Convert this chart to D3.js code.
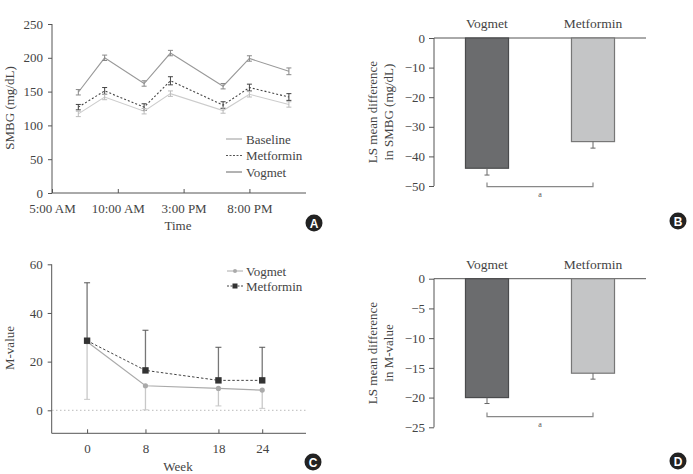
<!DOCTYPE html>
<html>
<head>
<meta charset="utf-8">
<script src="https://cdn.jsdelivr.net/npm/d3@7.9.0/dist/d3.min.js"></script>
<style>
  body { margin: 0; background: #fff; }
  .axis path, .axis line { stroke: #555; }
  .axis text { fill: #444; font-size: 13px; }
</style>
</head>
<body>
<svg id="chart" width="693" height="474"></svg>
<script>
// --- Panel A: SMBG profile (hours of day) ---
const smbgHours = [7, 9, 12, 14, 18, 20, 23];
const smbgTickHours = [5, 10, 15, 20];
const smbgTickLabels = ['5:00 AM', '10:00 AM', '3:00 PM', '8:00 PM'];
const baselineSmbg = [149, 200, 162, 207, 158, 199, 180];
const baselineErr = [4, 4, 4, 4, 4, 4, 5];
const metforminSmbg = [127, 151, 127, 166, 130, 156, 142];
const metforminErr = [4, 5, 5, 6, 5, 5, 5];
const vogmetSmbg = [117, 142, 121, 147, 122, 146, 131];
const vogmetErr = [4, 4, 4, 4, 4, 4, 4];

// --- Panel B / D: LS mean difference ---
const groups = ['Vogmet', 'Metformin'];
const smbgDiff = [-44, -35];
const smbgDiffErr = [2.3, 2.2];
const mDiff = [-20, -15.9];
const mDiffErr = [1, 1];

// --- Panel C: M-value by week ---
const weeks = [0, 8, 18, 24];
const vogmetM = [28.2, 10.1, 9.0, 8.3];
const vogmetMLow = [4.5, 0.2, 1.8, 0.8];
const metforminM = [28.6, 16.4, 12.3, 12.3];
const metforminMHigh = [52.4, 32.9, 25.9, 25.9];

const svg = d3.select('#chart');
const textColor = '#444';
const serif = 'Liberation Serif, Times New Roman, serif';

function badge(x, y, letter) {
  svg.append('circle').attr('cx', x).attr('cy', y).attr('r', 8.5).attr('fill', '#222');
  svg.append('text').attr('class', 'badge').attr('x', x).attr('y', y + 4.5).attr('text-anchor', 'middle')
    .attr('fill', '#fff').attr('font-size', 12).attr('font-weight', 'bold')
    .attr('font-family', 'Liberation Sans, Arial, sans-serif').text(letter);
}

function yLabel(x, y, lines) {
  const t = svg.append('text').attr('transform', `translate(${x},${y}) rotate(-90)`)
    .attr('text-anchor', 'middle').attr('fill', textColor).attr('font-size', 13);
  lines.forEach((l, i) => t.append('tspan').attr('x', 0).attr('dy', i === 0 ? 0 : 16).text(l));
}

// ================= Panel A =================
{
  const x = d3.scaleLinear().domain([5, 24.3]).range([52, 306]);
  const y = d3.scaleLinear().domain([0, 250]).range([193, 24]);

  svg.append('g').attr('class', 'axis').attr('transform', 'translate(52,0)')
    .call(d3.axisLeft(y).tickValues([0, 50, 100, 150, 200, 250]).tickSize(4).tickPadding(5))
    .call(g => g.select('.domain').attr('d', `M0,${y(250)}V${y(0)}`));

  svg.append('g').attr('class', 'axis').attr('transform', 'translate(0,193)')
    .call(d3.axisBottom(x).tickValues(smbgTickHours).tickFormat((d, i) => smbgTickLabels[i])
      .tickSize(-4).tickPadding(8))
    .call(g => g.select('.domain').attr('d', `M52,0H306`))
    .call(g => g.selectAll('.tick text').attr('dy', '0.9em'));

  const series = [
    { v: baselineSmbg, e: baselineErr, color: '#999', errColor: '#888', dash: null },
    { v: metforminSmbg, e: metforminErr, color: '#444', errColor: '#444', dash: '2,2' },
    { v: vogmetSmbg, e: vogmetErr, color: '#ccc', errColor: '#bbb', dash: null }
  ];
  const line = d3.line().x((d, i) => x(smbgHours[i])).y(d => y(d));
  series.forEach(s => {
    svg.append('path').datum(s.v).attr('d', line).attr('fill', 'none')
      .attr('stroke', s.color).attr('stroke-width', 1.1).attr('stroke-dasharray', s.dash);
    const eb = svg.append('g');
    s.v.forEach((v, i) => {
      const cx = x(smbgHours[i]);
      eb.append('line').attr('x1', cx).attr('x2', cx).attr('y1', y(v - s.e[i])).attr('y2', y(v + s.e[i]))
        .attr('stroke', s.errColor);
      [v - s.e[i], v + s.e[i]].forEach(yy => eb.append('line').attr('x1', cx - 2.5).attr('x2', cx + 2.5)
        .attr('y1', y(yy)).attr('y2', y(yy)).attr('stroke', s.errColor));
    });
  });

  const legend = [
    { label: 'Baseline', color: '#999', dash: null },
    { label: 'Metformin', color: '#555', dash: '2,1.5' },
    { label: 'Vogmet', color: '#666', dash: null }
  ];
  legend.forEach((l, i) => {
    const ly = 139 + i * 16.5;
    svg.append('line').attr('x1', 226).attr('x2', 242).attr('y1', ly).attr('y2', ly)
      .attr('stroke', l.color).attr('stroke-dasharray', l.dash);
    svg.append('text').attr('x', 246).attr('y', ly + 4.5).attr('fill', textColor)
      .attr('font-size', 13).text(l.label);
  });

  yLabel(14, 108, ['SMBG (mg/dL)']);
  svg.append('text').attr('x', 178).attr('y', 230).attr('text-anchor', 'middle')
    .attr('fill', textColor).attr('font-size', 13).text('Time');
  badge(314, 223, 'A');
}

// ================= Panel B & D (bar charts) =================
function barPanel(top, domainMin, tickStep, values, errs, labels, badgeLetter, bottomPx, bracketVal) {
  const x = d3.scaleBand().domain(groups).range([434, 646]).paddingInner(0.594).paddingOuter(0.297);
  const y = d3.scaleLinear().domain([domainMin, 0]).range([bottomPx, top]);

  svg.append('g').attr('class', 'axis').attr('transform', 'translate(434,0)')
    .call(d3.axisLeft(y).tickValues(d3.range(0, domainMin - 0.01, -tickStep)).tickSize(5).tickPadding(4)
      .tickFormat(d => d === 0 ? '0' : '\u2212' + Math.abs(d)))
    .call(g => g.select('.domain').attr('d', `M0,${y(0)}V${y(domainMin)}`));
  svg.append('line').attr('x1', 434).attr('x2', 646).attr('y1', y(0)).attr('y2', y(0)).attr('stroke', '#555');

  const fills = ['#6b6c6e', '#c4c5c6'];
  const strokes = ['#4a4b4d', '#777'];
  groups.forEach((g, i) => {
    const bx = x(g), bw = x.bandwidth();
    svg.append('rect').attr('x', bx).attr('y', y(0)).attr('width', bw)
      .attr('height', y(values[i]) - y(0)).attr('fill', fills[i]).attr('stroke', strokes[i]).attr('stroke-width', 1.2);
    const cx = bx + bw / 2;
    svg.append('line').attr('x1', cx).attr('x2', cx).attr('y1', y(values[i])).attr('y2', y(values[i] - errs[i]))
      .attr('stroke', '#666');
    svg.append('line').attr('x1', cx - 2.5).attr('x2', cx + 2.5)
      .attr('y1', y(values[i] - errs[i])).attr('y2', y(values[i] - errs[i])).attr('stroke', '#666');
    svg.append('text').attr('x', cx).attr('y', top - 10).attr('text-anchor', 'middle')
      .attr('fill', textColor).attr('font-size', 13.5).text(g);
  });

  const c0 = x(groups[0]) + x.bandwidth() / 2, c1 = x(groups[1]) + x.bandwidth() / 2;
  const by = y(bracketVal);
  svg.append('path').attr('d', `M${c0},${by - 4}V${by}H${c1}V${by - 4}`)
    .attr('fill', 'none').attr('stroke', '#888').attr('stroke-width', 1.2);
  svg.append('text').attr('x', (c0 + c1) / 2).attr('y', by + 10).attr('text-anchor', 'middle')
    .attr('fill', '#555').attr('font-size', 8).text('a');

  yLabel(377, (top + bottomPx) / 2, labels);
  badge(678, badgeLetter === 'B' ? 221 : 461, badgeLetter);
}

barPanel(38, -50, 10, smbgDiff, smbgDiffErr, ['LS mean difference', 'in SMBG (mg/dL)'], 'B', 186, -50.2);
barPanel(278.7, -25, 5, mDiff, mDiffErr, ['LS mean difference', 'in M-value'], 'D', 427.3, -23.2);

// ================= Panel C =================
{
  const x = d3.scaleLinear().domain([-4.85, 30]).range([51.7, 306]);
  const y = d3.scaleLinear().domain([-9.45, 60]).range([433.3, 264.3]);

  svg.append('g').attr('class', 'axis').attr('transform', 'translate(51.7,0)')
    .call(d3.axisLeft(y).tickValues([0, 20, 40, 60]).tickSize(4).tickPadding(5))
    .call(g => g.select('.domain').attr('d', `M0,${y(60)}V${y(-9.45)}`));
  svg.append('g').attr('class', 'axis').attr('transform', `translate(0,${y(-9.45)})`)
    .call(d3.axisBottom(x).tickValues(weeks).tickSize(-4).tickPadding(8))
    .call(g => g.select('.domain').attr('d', 'M51.7,0H306'))
    .call(g => g.selectAll('.tick text').attr('dy', '0.9em'));

  svg.append('line').attr('x1', 52).attr('x2', 306).attr('y1', y(0)).attr('y2', y(0))
    .attr('stroke', '#bbb').attr('stroke-dasharray', '1.5,2.5');

  // error bars
  weeks.forEach((w, i) => {
    const cx = x(w);
    svg.append('line').attr('x1', cx).attr('x2', cx).attr('y1', y(vogmetM[i])).attr('y2', y(vogmetMLow[i]))
      .attr('stroke', '#c8c8c8').attr('stroke-width', 1.3);
    svg.append('line').attr('x1', cx - 3).attr('x2', cx + 3).attr('y1', y(vogmetMLow[i])).attr('y2', y(vogmetMLow[i]))
      .attr('stroke', '#c8c8c8');
    svg.append('line').attr('x1', cx).attr('x2', cx).attr('y1', y(metforminM[i])).attr('y2', y(metforminMHigh[i]))
      .attr('stroke', '#777').attr('stroke-width', 1.3);
    svg.append('line').attr('x1', cx - 3).attr('x2', cx + 3).attr('y1', y(metforminMHigh[i])).attr('y2', y(metforminMHigh[i]))
      .attr('stroke', '#555');
  });

  const line = d3.line().x((d, i) => x(weeks[i])).y(d => y(d));
  svg.append('path').datum(vogmetM).attr('d', line).attr('fill', 'none').attr('stroke', '#aaa').attr('stroke-width', 1.2);
  svg.append('path').datum(metforminM).attr('d', line).attr('fill', 'none').attr('stroke', '#444')
    .attr('stroke-width', 1).attr('stroke-dasharray', '2.5,2');
  svg.selectAll('.vdot').data(vogmetM).join('circle').attr('class', 'vdot')
    .attr('cx', (d, i) => x(weeks[i])).attr('cy', d => y(d)).attr('r', 2.6).attr('fill', '#aaa');
  svg.selectAll('.msq').data(metforminM).join('rect').attr('class', 'msq')
    .attr('x', (d, i) => x(weeks[i]) - 3.2).attr('y', d => y(d) - 3.2).attr('width', 6.4).attr('height', 6.4)
    .attr('fill', '#333');

  // legend
  svg.append('line').attr('x1', 227).attr('x2', 243).attr('y1', 271).attr('y2', 271).attr('stroke', '#aaa');
  svg.append('circle').attr('cx', 235).attr('cy', 271).attr('r', 2).attr('fill', '#aaa');
  svg.append('text').attr('x', 246).attr('y', 275.5).attr('fill', textColor).attr('font-size', 13).text('Vogmet');
  svg.append('line').attr('x1', 227).attr('x2', 243).attr('y1', 286).attr('y2', 286).attr('stroke', '#444')
    .attr('stroke-dasharray', '2,1.5');
  svg.append('rect').attr('x', 232.5).attr('y', 283.5).attr('width', 5).attr('height', 5).attr('fill', '#333');
  svg.append('text').attr('x', 246).attr('y', 290.5).attr('fill', textColor).attr('font-size', 13).text('Metformin');

  yLabel(14, 348, ['M-value']);
  svg.append('text').attr('x', 178).attr('y', 471).attr('text-anchor', 'middle')
    .attr('fill', textColor).attr('font-size', 13).text('Week');
  badge(313, 462, 'C');
}

// serif face everywhere except the panel badges
svg.selectAll('text:not(.badge)').attr('font-family', serif);
</script>
</body>
</html>
